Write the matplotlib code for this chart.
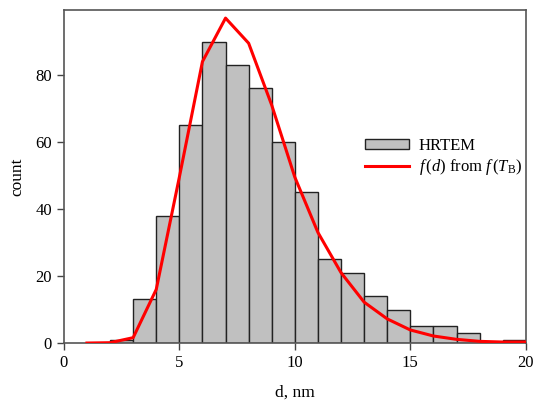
import matplotlib
matplotlib.use("Agg")
import matplotlib.pyplot as plt
import numpy as np

# histogram (HRTEM), bins of 1 nm starting at left edge
bin_left = [2, 3, 4, 5, 6, 7, 8, 9, 10, 11, 12, 13, 14, 15, 16, 17, 18, 19]
counts = [1, 13, 38, 65, 90, 83, 76, 60, 45, 25, 21, 14, 10, 5, 5, 3, 0, 1]

# f(d) from f(T_B)
d_fit = [1, 2, 3, 4, 5, 6, 7, 8, 9, 10, 11, 12, 13, 14, 15, 16, 17, 18, 19, 20]
f_fit = [0, 0.1, 1.6, 16, 49.5, 84, 97, 89.5, 71, 49.5, 33, 21, 12.2, 7.2, 3.9, 2.1, 1.1, 0.5, 0.3, 0.3]

plt.rcParams['font.family'] = ['Liberation Serif', 'DejaVu Serif']
plt.rcParams['mathtext.fontset'] = 'custom'
plt.rcParams['mathtext.rm'] = 'Liberation Serif'
plt.rcParams['mathtext.it'] = 'Liberation Serif:italic'

fig = plt.figure(figsize=(5.41, 4.05), dpi=100)
ax = fig.add_axes([0.118, 0.153, 0.854, 0.823])

bars = ax.bar(bin_left, counts, width=1, align='edge', color='#c0c0c0',
              edgecolor='#222222', linewidth=1.0, label='HRTEM', zorder=2)
line, = ax.plot(d_fit, f_fit, color='#ff0000', linewidth=2.2,
                label=r'$f\,(d)$ from $f\,(T_\mathrm{B})$', zorder=3)

ax.set_xlim(0, 20)
ax.set_ylim(0, 99.5)
ax.set_xticks([0, 5, 10, 15, 20])
ax.set_yticks([0, 20, 40, 60, 80])
ax.tick_params(direction='out', length=5, width=1, labelsize=12,
               color='#444444', top=False, right=False)
for s in ax.spines.values():
    s.set_color('#555555')
    s.set_linewidth(1.2)

ax.set_xlabel('d, nm', fontsize=12.5, labelpad=10)
ax.set_ylabel('count', fontsize=12.5, labelpad=7)

ax.legend(handles=[bars, line], loc='upper left', bbox_to_anchor=(0.62, 0.66),
          frameon=False, fontsize=12, handlelength=2.6, handleheight=0.5,
          handletextpad=0.6, labelspacing=0.2)

fig.savefig('out.png', dpi=100)
